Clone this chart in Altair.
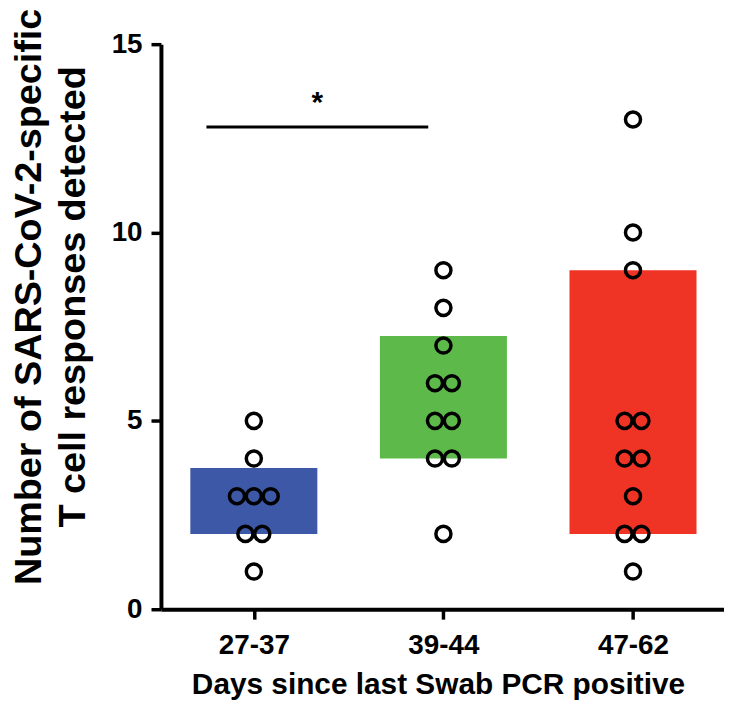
import altair as alt
import pandas as pd

# ---- data ----
groups = ["27-37", "39-44", "47-62"]
values_27_37 = [5, 4, 3, 3, 3, 2, 2, 1]
values_39_44 = [9, 8, 7, 6, 6, 5, 5, 4, 4, 2]
values_47_62 = [13, 10, 9, 5, 5, 4, 4, 3, 2, 2, 1]
bar_low = [2, 4, 2]
bar_high = [3.75, 7.25, 9]
bar_colors = ["#3C58A6", "#5DB94A", "#EF3324"]
sig_x = [0.75, 1.92]
sig_y = 12.8
sig_label = "*"

FONT = "Liberation Sans"
HALF_BAR = 0.335     # half bar width in x units
DOT_STEP = 0.089     # horizontal spacing between tied points, x units

# ---- build tables ----
bars = pd.DataFrame({"group": groups, "gx": [1, 2, 3], "low": bar_low, "high": bar_high})

rows = []
for gi, vals in enumerate([values_27_37, values_39_44, values_47_62]):
    counts = {v: vals.count(v) for v in vals}
    seen = {}
    for v in vals:
        i = seen.get(v, 0)
        seen[v] = i + 1
        n = counts[v]
        rows.append({"group": groups[gi], "xpos": gi + 1 + (i - (n - 1) / 2) * DOT_STEP, "value": v})
points = pd.DataFrame(rows)

sig = pd.DataFrame({"x1": [sig_x[0]], "x2": [sig_x[1]], "y": [sig_y], "label": [sig_label]})

xscale = alt.Scale(domain=[0.51, 3.48], nice=False, zero=False)
yscale = alt.Scale(domain=[0, 15], nice=False)

label_expr = "[" + ",".join("'%s'" % g for g in groups) + "][datum.value - 1]"

x_axis = alt.Axis(
    values=[1, 2, 3], labelExpr=label_expr, grid=False,
    title="Days since last Swab PCR positive",
    domainColor="black", domainWidth=4, tickColor="black", tickWidth=3.5, tickSize=10,
    labelFont=FONT, labelFontSize=28, labelFontWeight="bold", labelColor="black", labelPadding=13,
    labelFlush=False,
    titleFont=FONT, titleFontSize=30, titleFontWeight="bold", titleColor="black",
    titleX=279, titleY=85, titleBaseline="alphabetic", titleAlign="center",
)
y_axis = alt.Axis(
    values=[0, 5, 10, 15], grid=False,
    title=["Number of SARS-CoV-2-specific", "T cell responses detected"],
    domainColor="black", domainWidth=4, tickColor="black", tickWidth=3.5, tickSize=10,
    labelFont=FONT, labelFontSize=28, labelFontWeight="bold", labelColor="black", labelPadding=9,
    titleFont=FONT, titleFontSize=38, titleFontWeight="bold", titleColor="black",
    titleAngle=270, titleX=-121, titleY=254, titleBaseline="alphabetic", titleAlign="center",
    titleLineHeight=44,
)


def X(field):
    return alt.X(field, scale=xscale, axis=x_axis)


def Y(field):
    return alt.Y(field, scale=yscale, axis=y_axis)


bar_layer = alt.Chart(bars).transform_calculate(
    x1=f"datum.gx - {HALF_BAR}", x2=f"datum.gx + {HALF_BAR}"
).mark_rect().encode(
    x=X("x1:Q"),
    x2="x2:Q",
    y=Y("low:Q"),
    y2="high:Q",
    color=alt.Color("group:N", scale=alt.Scale(domain=groups, range=bar_colors), legend=None),
)

point_layer = alt.Chart(points).mark_point(
    shape="circle", filled=False, size=230, strokeWidth=3.5, color="black", opacity=1
).encode(
    x=X("xpos:Q"),
    y=Y("value:Q"),
)

sig_rule = alt.Chart(sig).mark_rule(color="black", strokeWidth=3).encode(
    x=X("x1:Q"),
    x2="x2:Q",
    y=Y("y:Q"),
)

sig_text = alt.Chart(sig).transform_calculate(
    xm="(datum.x1 + datum.x2) / 2"
).mark_text(
    font=FONT, fontSize=30, fontWeight="bold", color="black", align="center",
    baseline="alphabetic", dy=-15
).encode(
    x=X("xm:Q"),
    y=Y("y:Q"),
    text="label:N",
)

chart = alt.layer(bar_layer, point_layer, sig_rule, sig_text).properties(
    width=567, height=569,
    autosize=alt.AutoSizeParams(type="none"),
    padding={"left": 154, "top": 34, "right": 0, "bottom": 90},
).configure_view(stroke=None)

chart.save("out.html", embed_options={"renderer": "svg", "actions": False})
